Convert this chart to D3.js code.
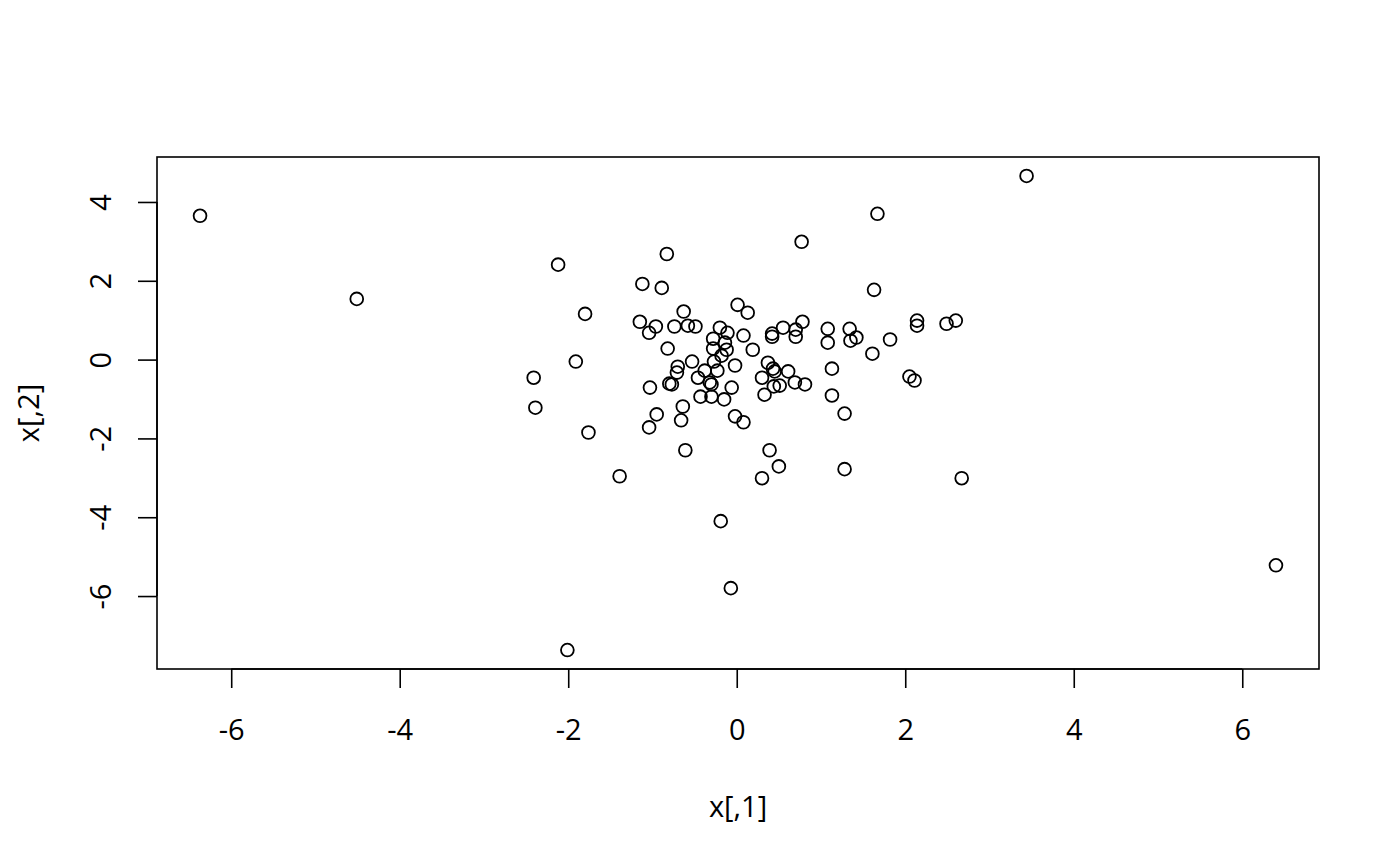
<!DOCTYPE html>
<html>
<head>
<meta charset="utf-8">
<script src="https://cdn.jsdelivr.net/npm/d3@7"></script>
<style>
html,body{margin:0;padding:0;background:#fff;}
svg{display:block;}
text{font-family:"Open Sans","Noto Sans",sans-serif;fill:#000;}
</style>
</head>
<body>
<svg id="chart" width="1400" height="866"></svg>
<script>
const xValues = [-6.37,-4.51,-2.41,-2.39,-2.12,-1.91,-1.80,-1.76,-2.01,-1.39,
  -1.15,-1.12,-1.04,-1.03,-1.04,-0.95,-0.96,-0.89,-0.83,-0.82,
  -0.80,-0.77,-0.74,-0.71,-0.70,-0.66,-0.64,-0.63,-0.61,-0.58,
  -0.53,-0.49,-0.46,-0.43,-0.38,-0.32,-0.30,-0.30,-0.28,-0.28,
  -0.27,-0.23,-0.20,-0.19,-0.18,-0.15,-0.14,-0.12,-0.11,-0.07,
  -0.06,-0.02,-0.02,0.01,0.08,0.08,0.13,0.19,0.30,0.30,
  0.33,0.37,0.39,0.42,0.42,0.43,0.44,0.45,0.50,0.51,
  0.55,0.61,0.69,0.70,0.70,0.77,0.78,0.81,1.08,1.08,
  1.13,1.13,1.28,1.28,1.34,1.35,1.42,1.61,1.63,1.67,
  1.82,2.05,2.11,2.14,2.14,2.49,2.60,2.67,3.44,6.40];
const yValues = [3.65,1.54,-0.46,-1.22,2.41,-0.05,1.16,-1.85,-7.37,-2.96,
  0.96,1.92,0.68,-0.71,-1.72,-1.39,0.84,1.82,2.68,0.28,
  -0.61,-0.63,0.84,-0.33,-0.18,-1.54,-1.19,1.22,-2.30,0.86,
  -0.05,0.84,-0.46,-0.94,-0.28,-0.58,-0.63,-0.94,0.53,0.28,
  -0.05,-0.28,0.81,-4.10,0.10,-1.01,0.43,0.25,0.68,-5.80,
  -0.71,-0.15,-1.44,1.39,0.61,-1.59,1.19,0.25,-3.01,-0.46,
  -0.89,-0.08,-2.30,0.66,0.58,-0.23,-0.68,-0.30,-2.71,-0.66,
  0.81,-0.30,-0.58,0.76,0.58,2.99,0.96,-0.63,0.78,0.43,
  -0.23,-0.91,-1.37,-2.78,0.78,0.48,0.56,0.15,1.77,3.70,
  0.51,-0.43,-0.53,0.99,0.86,0.91,0.99,-3.01,4.66,-5.22];
const xTicks = [-6,-4,-2,0,2,4,6];
const yTicks = [-6,-4,-2,0,2,4];
const xLabel = "x[,1]";
const yLabel = "x[,2]";

(function(){
const svg = d3.select("#chart");
const pL = 157, pR = 1319, pT = 157, pB = 669;
const FS = 29, LW = 1.6;

function padded(vals){
  const [a,b] = d3.extent(vals);
  const p = (b-a)*0.04;
  return [a-p, b+p];
}
const x = d3.scaleLinear().domain(padded(xValues)).range([pL, pR]);
const y = d3.scaleLinear().domain(padded(yValues)).range([pB, pT]);
const fmt = d => d < 0 ? "-" + Math.abs(d) : String(d);

svg.append("rect").attr("x", pL).attr("y", pT)
  .attr("width", pR-pL).attr("height", pB-pT)
  .attr("fill","none").attr("stroke","#000").attr("stroke-width",LW);

const xAxis = svg.append("g").attr("transform",`translate(0,${pB})`)
  .call(d3.axisBottom(x).tickValues(xTicks).tickSize(19).tickPadding(0).tickSizeOuter(0));
xAxis.select(".domain").attr("d", `M${x(xTicks[0])},0H${x(xTicks[xTicks.length-1])}`).attr("stroke-width",LW);
xAxis.selectAll(".tick line").attr("stroke-width",LW);
xAxis.selectAll(".tick text").attr("font-size",FS).attr("y",59).attr("dy",null)
  .attr("dominant-baseline","central").text(fmt);

const yAxis = svg.append("g").attr("transform",`translate(${pL},0)`)
  .call(d3.axisLeft(y).tickValues(yTicks).tickSize(19).tickSizeOuter(0));
yAxis.select(".domain").attr("d", `M0,${y(yTicks[0])}V${y(yTicks[yTicks.length-1])}`).attr("stroke-width",LW);
yAxis.selectAll(".tick line").attr("stroke-width",LW);
yAxis.selectAll(".tick text").attr("font-size",FS).attr("x",null).attr("dy",null)
  .attr("text-anchor","middle").attr("dominant-baseline","central")
  .attr("transform","translate(-58,0) rotate(-90)").text(fmt);

svg.append("g").selectAll("circle").data(xValues.map((v,i)=>[v,yValues[i]]))
  .join("circle")
  .attr("cx", d => x(d[0])).attr("cy", d => y(d[1])).attr("r", 6.4)
  .attr("fill","none").attr("stroke","#000").attr("stroke-width",1.8);

svg.append("text").attr("x",(pL+pR)/2).attr("y",805)
  .attr("text-anchor","middle").attr("dominant-baseline","central")
  .attr("font-size",FS).text(xLabel);
svg.append("text").attr("transform",`translate(27,${(pT+pB)/2}) rotate(-90)`)
  .attr("text-anchor","middle").attr("dominant-baseline","central")
  .attr("font-size",FS).text(yLabel);
})();
</script>
</body>
</html>
